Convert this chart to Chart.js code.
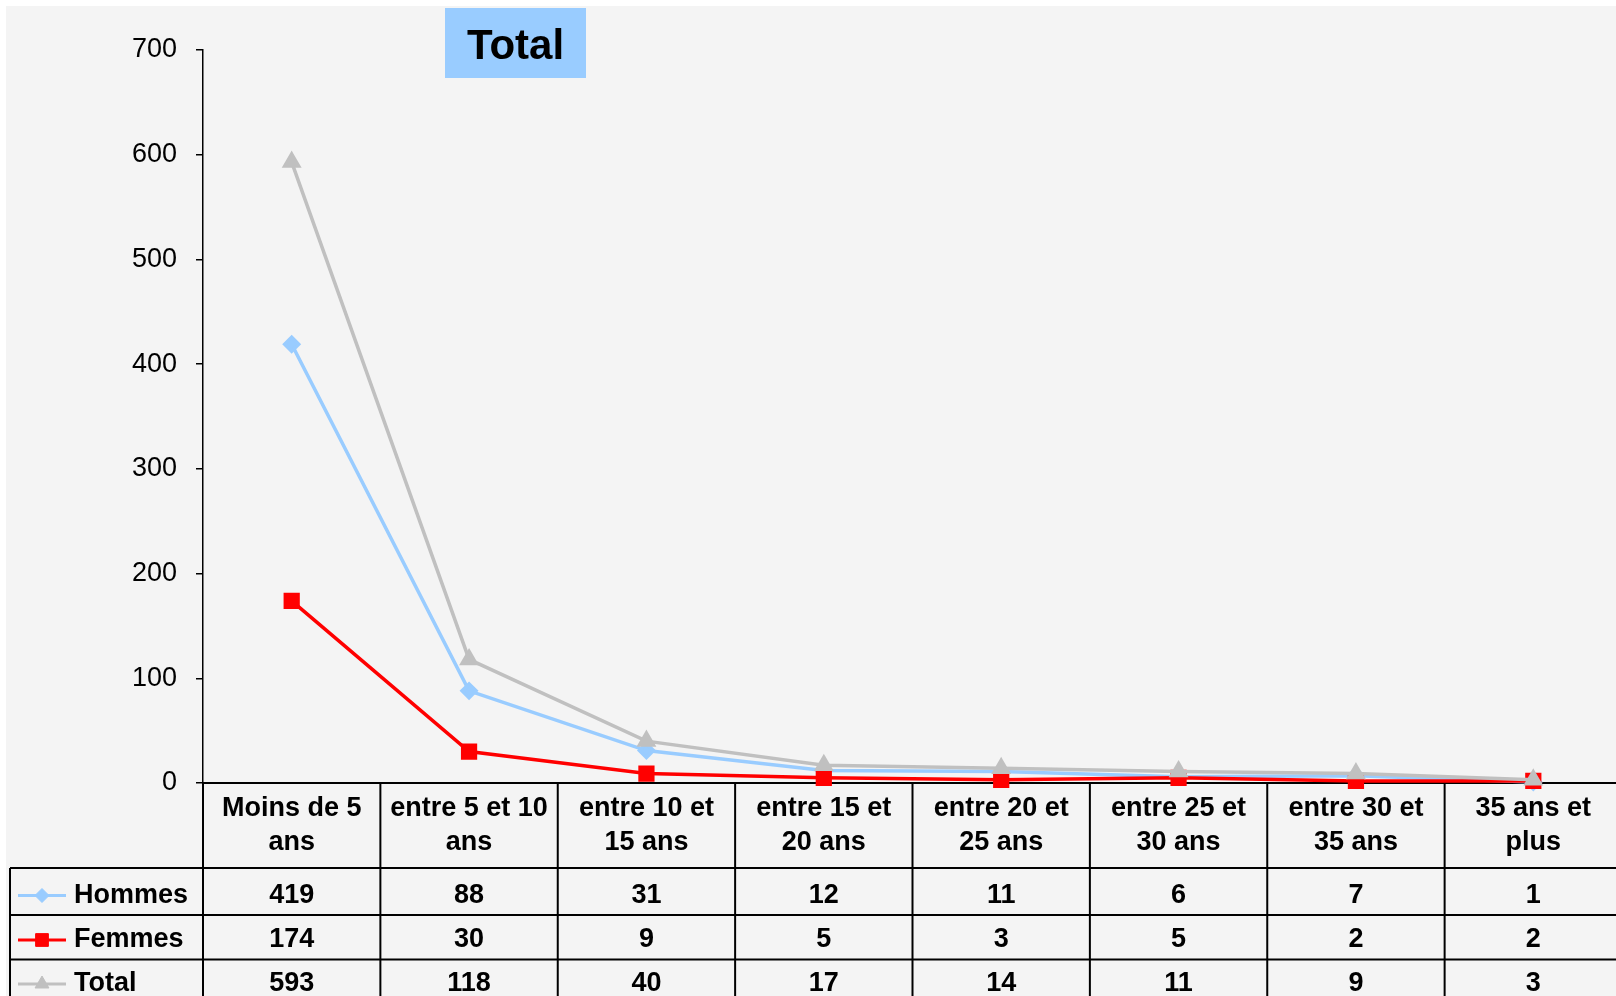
<!DOCTYPE html>
<html>
<head>
<meta charset="utf-8">
<script src="https://cdn.jsdelivr.net/npm/chart.js@4.4.0/dist/chart.umd.min.js"></script>
<style>
  html, body { margin: 0; padding: 0; background: #fff; overflow: hidden; }
  #wrap { position: absolute; left: 6px; top: 6px; width: 1640px; height: 1000px; }
</style>
</head>
<body>
<div id="wrap"><canvas id="chart" width="1640" height="1000"></canvas></div>
<script>
// categories (two lines each, as in the data table header)
var categories = [
  ['Moins de 5', 'ans'],
  ['entre 5 et 10', 'ans'],
  ['entre 10 et', '15 ans'],
  ['entre 15 et', '20 ans'],
  ['entre 20 et', '25 ans'],
  ['entre 25 et', '30 ans'],
  ['entre 30 et', '35 ans'],
  ['35 ans et', 'plus']
];
var hommes = [419, 88, 31, 12, 11, 6, 7, 1];
var femmes = [174, 30, 9, 5, 3, 5, 2, 2];
var total = [593, 118, 40, 17, 14, 11, 9, 3];
var yMin = 0, yMax = 700, yStep = 100;
var titleText = 'Total';

var FONT = "'Liberation Sans', Arial, sans-serif";

var bgPlugin = {
  id: 'bg',
  beforeDraw: function(chart) {
    var ctx = chart.ctx;
    ctx.save();
    ctx.fillStyle = '#f4f4f4';
    ctx.fillRect(0, 0, chart.width, chart.height);
    ctx.restore();
  }
};

var titlePlugin = {
  id: 'titleBox',
  afterDraw: function(chart) {
    var ctx = chart.ctx;
    ctx.save();
    ctx.fillStyle = '#99ccff';
    ctx.fillRect(439, 2, 141, 70);
    ctx.fillStyle = '#000';
    ctx.font = 'bold 42px ' + FONT;
    ctx.textAlign = 'center';
    ctx.textBaseline = 'middle';
    ctx.fillText(titleText, 509.5, 41);
    ctx.restore();
  }
};

var tablePlugin = {
  id: 'dataTable',
  beforeDatasetsDraw: function(chart) {
    var ctx = chart.ctx, x = chart.scales.x, area = chart.chartArea;
    var n = categories.length;
    var colW = x.width / n;
    var top = area.bottom;
    var bottom = chart.height;
    var rowLines = [top + 85, top + 132, top + 176.5];
    var rowCenters = [top + 112.5, top + 157, top + 201];
    var tableLeft = 4;

    ctx.save();
    ctx.strokeStyle = '#000';
    ctx.lineWidth = 2;
    // x axis line
    ctx.beginPath();
    ctx.moveTo(area.left, top);
    ctx.lineTo(chart.width, top);
    ctx.stroke();
    // column separators
    for (var i = 0; i <= n; i++) {
      var px = area.left + i * colW;
      ctx.beginPath();
      ctx.moveTo(px, top);
      ctx.lineTo(px, bottom);
      ctx.stroke();
    }
    // row lines + left border
    rowLines.forEach(function(y) {
      ctx.beginPath();
      ctx.moveTo(tableLeft, y);
      ctx.lineTo(chart.width, y);
      ctx.stroke();
    });
    ctx.beginPath();
    ctx.moveTo(tableLeft, rowLines[0]);
    ctx.lineTo(tableLeft, bottom);
    ctx.stroke();

    // header labels
    ctx.fillStyle = '#000';
    ctx.font = 'bold 27px ' + FONT;
    ctx.textAlign = 'center';
    ctx.textBaseline = 'middle';
    categories.forEach(function(lines, i) {
      var cx = x.getPixelForValue(i);
      ctx.fillText(lines[0], cx, top + 26);
      ctx.fillText(lines[1], cx, top + 60);
    });

    // data rows
    chart.data.datasets.forEach(function(ds, r) {
      var cy = rowCenters[r];
      ctx.textAlign = 'center';
      ds.data.forEach(function(v, i) {
        ctx.fillText(String(v), x.getPixelForValue(i), cy);
      });
      // legend key
      ctx.save();
      ctx.strokeStyle = ds.borderColor;
      ctx.lineWidth = 3;
      ctx.beginPath();
      ctx.moveTo(12, cy);
      ctx.lineTo(60, cy);
      ctx.stroke();
      ctx.fillStyle = ds.pointBackgroundColor;
      ctx.strokeStyle = ds.pointBorderColor;
      ctx.lineWidth = 1;
      Chart.helpers.drawPoint(ctx, { pointStyle: ds.pointStyle, radius: ds.pointRadius, rotation: 0, borderWidth: 1 }, 36, cy);
      ctx.restore();
      ctx.textAlign = 'left';
      ctx.fillText(ds.label, 68, cy);
    });
    ctx.restore();
  }
};

new Chart(document.getElementById('chart'), {
  type: 'line',
  data: {
    labels: categories,
    datasets: [
      { label: 'Hommes', data: hommes, order: 3, borderColor: '#99ccff', borderWidth: 3.5,
        pointStyle: 'rectRot', pointRadius: 7, pointBackgroundColor: '#99ccff', pointBorderColor: '#99ccff', clip: false },
      { label: 'Femmes', data: femmes, order: 2, borderColor: '#ff0000', borderWidth: 3.5,
        pointStyle: 'rect', pointRadius: 9, pointBackgroundColor: '#ff0000', pointBorderColor: '#ff0000', clip: false },
      { label: 'Total', data: total, order: 1, borderColor: '#c0c0c0', borderWidth: 3.5,
        pointStyle: 'triangle', pointRadius: 8, pointBackgroundColor: '#c0c0c0', pointBorderColor: '#c0c0c0', clip: false }
    ]
  },
  options: {
    responsive: false,
    animation: false,
    devicePixelRatio: 1,
    layout: { padding: { top: 44, right: 24, left: 0, bottom: 0 } },
    plugins: { legend: { display: false }, tooltip: { enabled: false }, title: { display: false } },
    elements: { line: { tension: 0 } },
    scales: {
      x: {
        type: 'category',
        offset: true,
        grid: { display: false },
        border: { display: false },
        ticks: { display: false },
        afterFit: function(scale) { scale.height = 223; }
      },
      y: {
        min: yMin,
        max: yMax,
        ticks: { stepSize: yStep, padding: 19, color: '#000', font: { family: FONT, size: 27 } },
        grid: { drawOnChartArea: false, drawTicks: true, tickLength: 7, color: '#000', lineWidth: 1.5 },
        border: { display: true, color: '#000', width: 1.5 },
        afterFit: function(scale) { scale.width = 197; }
      }
    }
  },
  plugins: [bgPlugin, tablePlugin, titlePlugin]
});
</script>
</body>
</html>
